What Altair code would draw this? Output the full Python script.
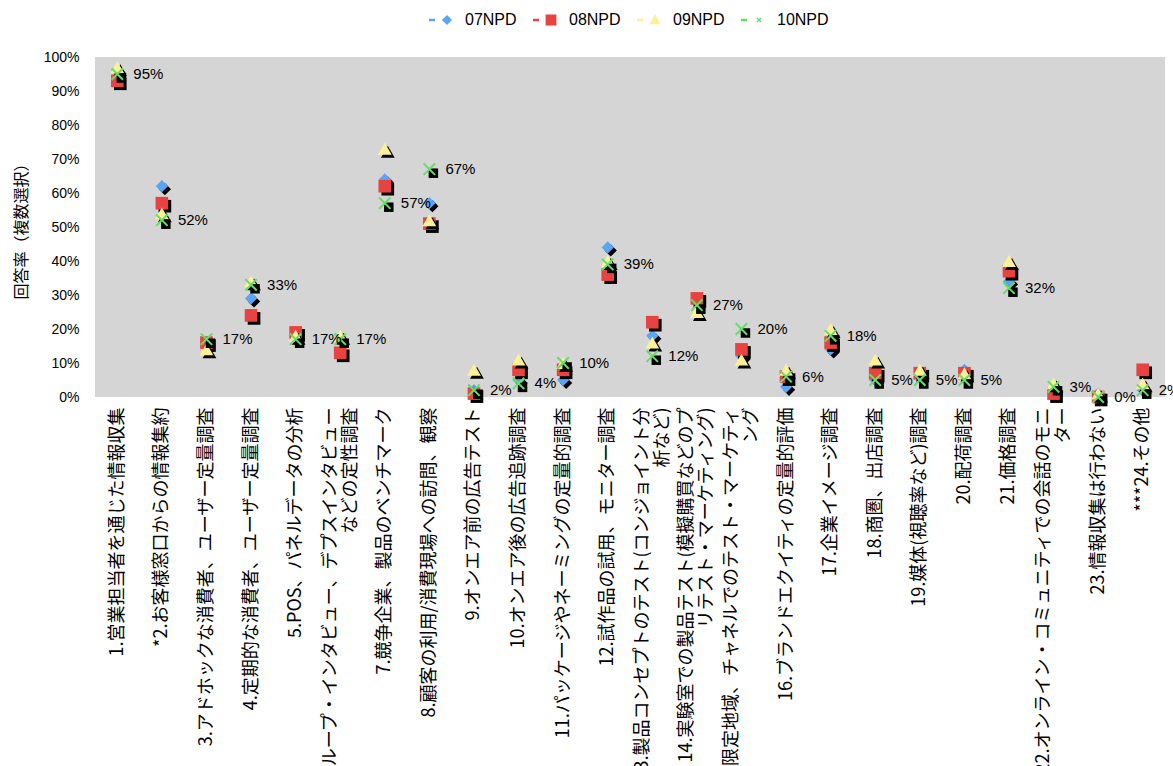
import altair as alt
import pandas as pd

# Survey items (a "|" marks where a long label wraps onto a second line)
categories = [
    "1.営業担当者を通じた情報収集",
    "*2.お客様窓口からの情報集約",
    "3.アドホックな消費者、ユーザー定量調査",
    "4.定期的な消費者、ユーザー定量調査",
    "5.POS、パネルデータの分析",
    "6.グループ・インタビュー、デプスインタビュー|などの定性調査",
    "7.競争企業、製品のベンチマーク",
    "8.顧客の利用/消費現場への訪問、観察",
    "9.オンエア前の広告テスト",
    "10.オンエア後の広告追跡調査",
    "11.パッケージやネーミングの定量的調査",
    "12.試作品の試用、モニター調査",
    "**13.製品コンセプトのテスト(コンジョイント分|析など)",
    "14.実験室での製品テスト(模擬購買などのプ|リテスト・マーケティング)",
    "15.限定地域、チャネルでのテスト・マーケティ|ング",
    "16.ブランドエクイティの定量的評価",
    "17.企業イメージ調査",
    "18.商圏、出店調査",
    "19.媒体(視聴率など)調査",
    "20.配荷調査",
    "21.価格調査",
    "22.オンライン・コミュニティでの会話のモニ|ター",
    "23.情報収集は行わない",
    "***24.その他",
]

series = ["07NPD", "08NPD", "09NPD", "10NPD"]

# Response rates (%) per survey year
npd07 = [96, 62, 16, 29, 18, 17, 64, 57, 2, 5, 5, 44, 18, 28, 12, 3, 14, 5, 6, 8, 34, 2, 1, 2]
npd08 = [93, 57, 16, 24, 19, 13, 62, 51, 1, 8, 8, 36, 22, 29, 14, 6, 16, 7, 7, 7, 37, 1, 0, 8]
npd09 = [97, 54, 14, 34, 18, 18, 73, 52, 8, 11, 10, 40, 16, 25, 11, 8, 20, 11, 8, 7, 40, 4, 1, 4]
npd10 = [95, 52, 17, 33, 17, 17, 57, 67, 2, 4, 10, 39, 12, 27, 20, 6, 18, 5, 5, 5, 32, 3, 0, 2]

values = [npd07, npd08, npd09, npd10]
colors = ["#5aa6f2", "#e84340", "#fff096", "#66dd66"]

rows = []
for s, vals in zip(series, values):
    for c, v in zip(categories, vals):
        rows.append({"series": s, "category": c, "value": v})
df = pd.DataFrame(rows)

JP = "Noto Sans CJK JP"
LAT = "Liberation Sans"

X_PATH = "M-1,-1L1,1M-1,1L1,-1"


def bar(x1, y1, x2, y2, w):
    """Thick line segment as a filled quad (unit symbol coordinates)."""
    dx, dy = x2 - x1, y2 - y1
    ln = (dx * dx + dy * dy) ** 0.5
    px, py = -dy / ln * w, dx / ln * w
    return (f"M{x1 + px:.3f},{y1 + py:.3f}L{x2 + px:.3f},{y2 + py:.3f}"
            f"L{x2 - px:.3f},{y2 - py:.3f}L{x1 - px:.3f},{y1 - py:.3f}Z")


dash = bar(-1.0, 0, -0.5, 0, 0.1)
legend_paths = [
    dash + "M0.5,-0.42L0.92,0L0.5,0.42L0.08,0Z",
    dash + "M0.05,-0.45L0.95,-0.45L0.95,0.45L0.05,0.45Z",
    dash + "M0.5,-0.5L0.95,0.35L0.05,0.35Z",
    dash + bar(0.33, -0.17, 0.67, 0.17, 0.06) + bar(0.33, 0.17, 0.67, -0.17, 0.06),
]

x_axis = alt.Axis(
    title=None,
    labelAngle=270,
    labelExpr="split(datum.label, '|')",
    labelFont=JP,
    labelFontSize=18,
    labelColor="black",
    labelLineHeight=20,
    labelPadding=10,
    labelLimit=2000,
    labelOverlap=False,
    # centre two-line labels on their tick
    labelOffset=alt.ExprRef(expr="indexof(datum.value, '|') >= 0 ? -10 : 0"),
    ticks=False,
    domain=False,
    grid=False,
)

y_axis = alt.Axis(
    title="回答率（複数選択）",
    titleFont=JP,
    titleFontSize=16,
    titleFontWeight="normal",
    titleColor="black",
    titlePadding=14,
    values=list(range(0, 101, 10)),
    labelExpr="datum.value + '%'",
    labelFont=LAT,
    labelFontSize=14,
    labelColor="black",
    labelPadding=16,
    ticks=False,
    domain=False,
    grid=False,
)

base = alt.Chart(df).encode(
    x=alt.X("category:N", sort=categories, axis=x_axis),
    y=alt.Y("value:Q", scale=alt.Scale(domain=[0, 100]), axis=y_axis),
)

# Plot-area background
panel = alt.Chart(pd.DataFrame({"panel": [0]})).mark_rect(
    color="#d5d5d5", opacity=1
).encode(x=alt.value(0), x2=alt.value("width"), y=alt.value(0), y2=alt.value("height"))

layers = [panel]

marker_styles = [
    dict(shape="diamond", size=150),
    dict(shape="square", size=160),
    dict(shape="triangle-up", size=190),
]

for s, col, style in zip(series[:3], colors[:3], marker_styles):
    sub = base.transform_filter(alt.datum.series == s)
    layers.append(sub.mark_point(filled=True, fill="black", color="black", opacity=1,
                                 strokeWidth=0, xOffset=3, yOffset=3, **style))
    layers.append(sub.mark_point(filled=True, fill=col, color=col, opacity=1,
                                 strokeWidth=0, **style))

# 10NPD: thin "x" markers over a dark square shadow
sub10 = base.transform_filter(alt.datum.series == series[3])
layers.append(sub10.mark_point(shape="square", size=90, filled=True, fill="black",
                               color="black", opacity=1, strokeWidth=0,
                               xOffset=4, yOffset=4))
layers.append(sub10.mark_point(shape=X_PATH, size=130, filled=False, stroke=colors[3],
                               color=colors[3], strokeWidth=2, opacity=1))

# Value labels for the latest year
layers.append(
    sub10.transform_calculate(label="datum.value + '%'").mark_text(
        align="left", baseline="middle", dx=16, font=LAT, fontSize=15, color="black"
    ).encode(text="label:N")
)

legend = alt.Legend(
    title=None,
    orient="none",
    legendX=334,
    legendY=-49,
    direction="horizontal",
    symbolSize=576,
    symbolStrokeWidth=0,
    labelFont=LAT,
    labelFontSize=16,
    labelColor="black",
    labelOffset=12,
    columnPadding=16,
    padding=0,
)

legend_layer = alt.Chart(pd.DataFrame({"series": series})).transform_filter(
    "false"
).mark_point(filled=True, opacity=1, strokeWidth=0).encode(
    color=alt.Color("series:N", scale=alt.Scale(domain=series, range=colors), legend=legend),
    shape=alt.Shape("series:N", scale=alt.Scale(domain=series, range=legend_paths), legend=legend),
)
layers.append(legend_layer)

chart = alt.layer(*layers).properties(
    width=1070,
    height=340,
    autosize=alt.AutoSizeParams(type="none"),
    padding={"left": 95, "top": 57, "right": 8, "bottom": 372},
    background="white",
).configure_view(strokeWidth=0)

chart.save("out.html", embed_options={"renderer": "svg", "actions": False})
